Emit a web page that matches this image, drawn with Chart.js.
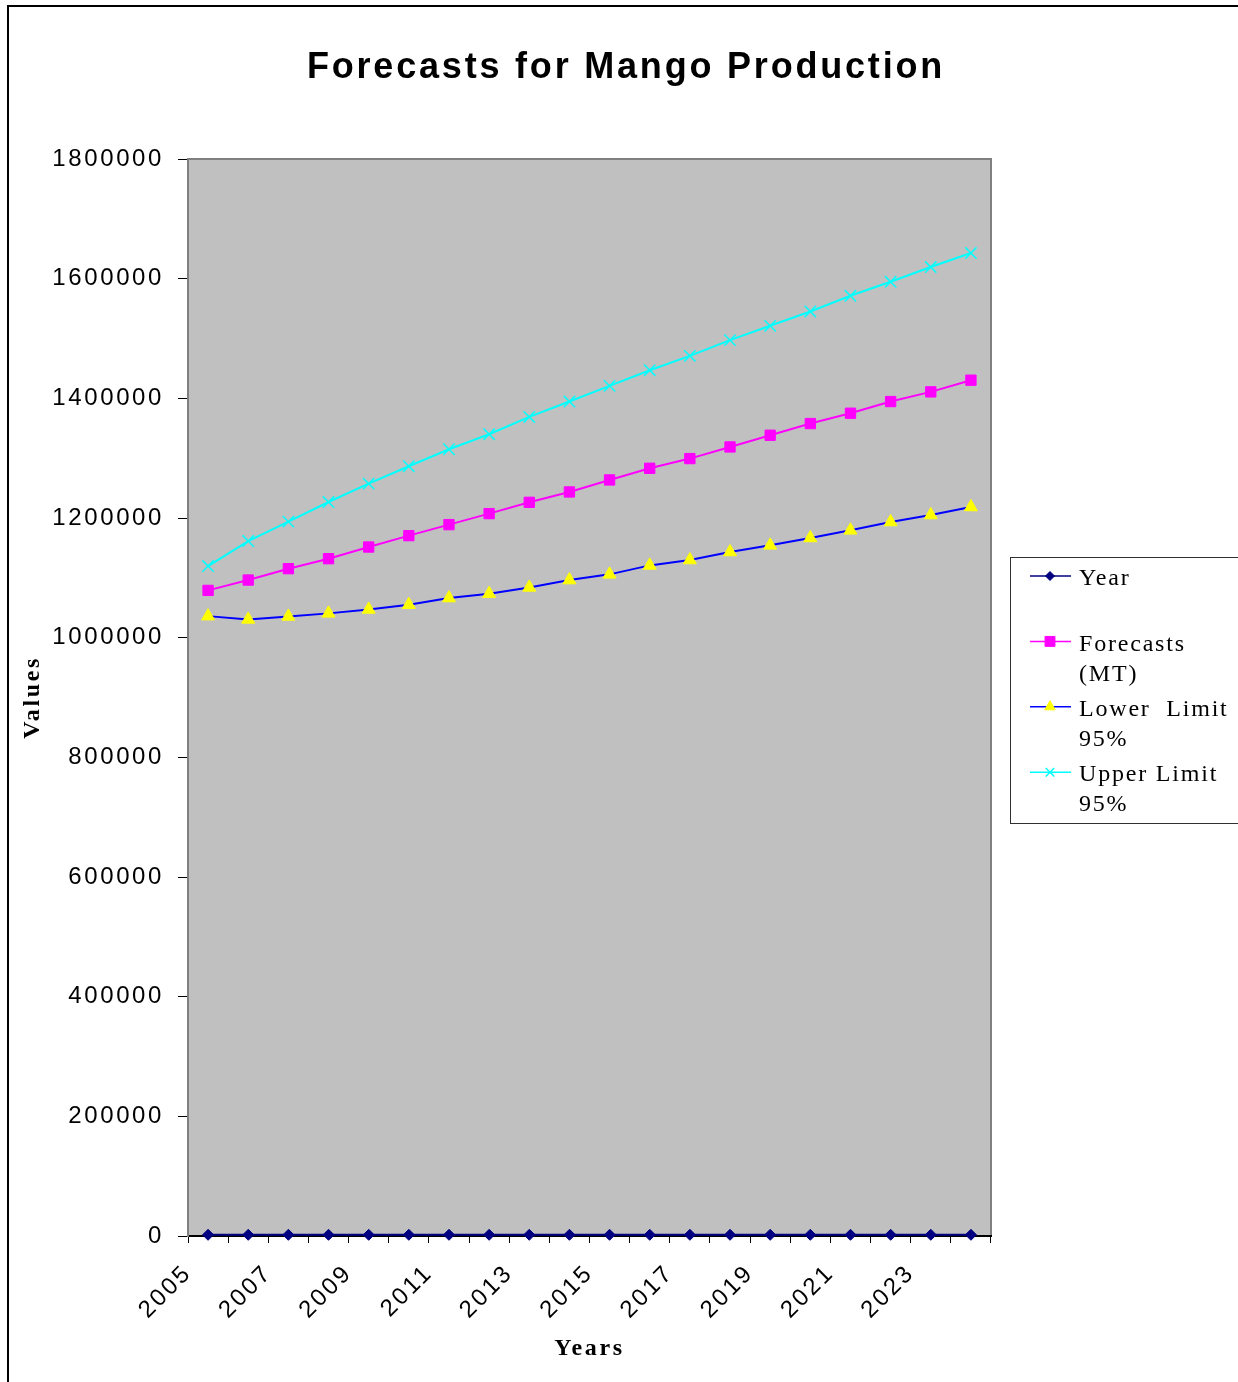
<!DOCTYPE html>
<html>
<head>
<meta charset="utf-8">
<title>Forecasts for Mango Production</title>
<script src="https://cdn.jsdelivr.net/npm/chart.js@4.4.1/dist/chart.umd.min.js"></script>
<style>
  html, body { margin: 0; padding: 0; background: #ffffff; overflow: hidden; }
  canvas { display: block; }
</style>
</head>
<body>
<canvas id="chart" width="1238" height="1382"></canvas>
<script>
// Categories (years) and the plotted series
const years = ['2005', '2006', '2007', '2008', '2009', '2010', '2011', '2012', '2013', '2014',
               '2015', '2016', '2017', '2018', '2019', '2020', '2021', '2022', '2023', '2024'];
const yearSeries = [2005, 2006, 2007, 2008, 2009, 2010, 2011, 2012, 2013, 2014,
                    2015, 2016, 2017, 2018, 2019, 2020, 2021, 2022, 2023, 2024];
const forecasts = [1079000, 1096300, 1115300, 1132000, 1151500, 1170500, 1188900, 1207300, 1226200, 1243500,
                   1263600, 1283100, 1299300, 1318800, 1338300, 1357800, 1375100, 1394600, 1410800, 1430300];
const lowerLimit = [1036000, 1030500, 1035500, 1040600, 1047200, 1055000, 1066200, 1073500, 1084000, 1096300,
                    1105800, 1120800, 1129800, 1143200, 1154300, 1166600, 1179400, 1193300, 1205000, 1218400];
const upperLimit = [1119700, 1161500, 1193900, 1226700, 1257500, 1286500, 1314900, 1340000, 1368900, 1394700,
                    1420800, 1447000, 1471000, 1497300, 1521200, 1545200, 1571400, 1594800, 1619400, 1642800];

// Legend text, one entry per series (wrapped lines)
const seriesNames = [['Year'], ['Forecasts', '(MT)'], ['Lower  Limit', '95%'], ['Upper Limit', '95%']];

// Value axis range
const yMin = 0;
const yMax = 1800000;
const yStep = 200000;

const chartTitle = 'Forecasts for Mango Production';
const xTitle = 'Years';
const yTitle = 'Values';

const SANS = "'Liberation Sans', Arial, Helvetica, sans-serif";
const SERIF = "'Liberation Serif', 'Times New Roman', Times, serif";

// Wider letter spacing for the axis text
const spacing = {
  id: 'spacing',
  beforeUpdate(chart) { chart.ctx.letterSpacing = '2.6px'; },
  beforeDraw(chart) { chart.ctx.letterSpacing = '2.6px'; }
};

// Outer frame, grey plot area and the chart heading
const frame = {
  id: 'frame',
  beforeDraw(chart) {
    const { ctx, chartArea: a } = chart;
    ctx.save();
    ctx.fillStyle = '#c0c0c0';
    ctx.fillRect(a.left, a.top, a.right - a.left, a.bottom - a.top);
    ctx.strokeStyle = '#808080';
    ctx.lineWidth = 2;
    ctx.strokeRect(a.left, a.top, a.right - a.left, a.bottom - a.top);

    ctx.strokeStyle = '#000000';
    ctx.lineWidth = 2;
    ctx.strokeRect(8, 6, chart.width + 20, chart.height + 20);

    ctx.fillStyle = '#000000';
    ctx.font = 'bold 36px ' + SANS;
    ctx.letterSpacing = '2.8px';
    ctx.textAlign = 'center';
    ctx.textBaseline = 'middle';
    ctx.fillText(chartTitle, 626, 68);
    ctx.restore();
  }
};

// Boxed legend on the right, with wrapped series names
const legendBox = {
  id: 'legendBox',
  afterDraw(chart) {
    const ctx = chart.ctx;
    const left = 1010, top = 557;
    ctx.save();
    ctx.fillStyle = '#ffffff';
    ctx.fillRect(left, top, 260, 266);
    ctx.strokeStyle = '#303030';
    ctx.lineWidth = 1;
    ctx.strokeRect(left + 0.5, top + 0.5, 260, 266);

    chart.data.datasets.forEach((ds, i) => {
      const ty = 579 + i * 65.4;
      const sy = ty - 3;
      ctx.strokeStyle = ds.borderColor;
      ctx.lineWidth = 1.5;
      ctx.beginPath();
      ctx.moveTo(left + 20, sy);
      ctx.lineTo(left + 61, sy);
      ctx.stroke();

      ctx.fillStyle = ds.pointBackgroundColor;
      ctx.strokeStyle = ds.pointBorderColor;
      ctx.lineWidth = ds.pointBorderWidth;
      if (Chart.helpers && Chart.helpers.drawPoint) {
        Chart.helpers.drawPoint(ctx, {
          pointStyle: ds.pointStyle,
          radius: ds.legendPointRadius,
          rotation: 0,
          borderWidth: ds.pointBorderWidth
        }, left + 40, sy);
      }

      ctx.fillStyle = '#000000';
      ctx.font = '24px ' + SERIF;
      ctx.letterSpacing = '1.8px';
      ctx.textAlign = 'left';
      ctx.textBaseline = 'middle';
      seriesNames[i].forEach((line, j) => ctx.fillText(line, left + 69, ty + j * 30));
    });
    ctx.restore();
  }
};

new Chart(document.getElementById('chart').getContext('2d'), {
  type: 'line',
  data: {
    labels: years,
    datasets: [
      {
        label: 'Year', data: yearSeries,
        borderColor: '#000080', borderWidth: 2,
        pointStyle: 'rectRot', pointRadius: 5.5, legendPointRadius: 4.5,
        pointBackgroundColor: '#000080', pointBorderColor: '#000080', pointBorderWidth: 1,
        clip: false
      },
      {
        label: 'Forecasts (MT)', data: forecasts,
        borderColor: '#ff00ff', borderWidth: 2,
        pointStyle: 'rect', pointRadius: 7.3, legendPointRadius: 7,
        pointBackgroundColor: '#ff00ff', pointBorderColor: '#ff00ff', pointBorderWidth: 1,
        clip: false
      },
      {
        label: 'Lower Limit 95%', data: lowerLimit,
        borderColor: '#0000ff', borderWidth: 2,
        pointStyle: 'triangle', pointRadius: 7.5, legendPointRadius: 6,
        pointBackgroundColor: '#ffff00', pointBorderColor: '#ffff00', pointBorderWidth: 1,
        clip: false
      },
      {
        label: 'Upper Limit 95%', data: upperLimit,
        borderColor: '#00ffff', borderWidth: 2,
        pointStyle: 'crossRot', pointRadius: 8, legendPointRadius: 6,
        pointBackgroundColor: '#00ffff', pointBorderColor: '#00ffff', pointBorderWidth: 1.5,
        clip: false
      }
    ]
  },
  options: {
    responsive: false,
    animation: false,
    events: [],
    layout: { padding: { top: 159, right: 247, left: 0, bottom: 0 } },
    elements: { line: { tension: 0 } },
    plugins: {
      legend: { display: false },
      title: { display: false },
      tooltip: { enabled: false }
    },
    scales: {
      x: {
        offset: true,
        grid: { offset: true, drawOnChartArea: false, tickLength: 7, color: '#000000', lineWidth: 1 },
        border: { color: '#000000', width: 2 },
        ticks: {
          autoSkip: false, minRotation: 45, maxRotation: 45,
          labelOffset: -20, padding: 16,
          color: '#000000', font: { family: SANS, size: 24 },
          callback(value, index) { return index % 2 === 0 ? this.getLabelForValue(value) : ''; }
        },
        title: {
          display: true, text: xTitle, color: '#000000',
          font: { family: SERIF, size: 24, weight: 'bold' },
          padding: { top: 0, bottom: 19 }
        },
        afterFit(scale) { scale.height = 146; }
      },
      y: {
        min: yMin, max: yMax,
        grid: { drawOnChartArea: false, tickLength: 10, color: '#000000', lineWidth: 1 },
        border: { color: '#808080', width: 2 },
        ticks: {
          stepSize: yStep, padding: 14,
          color: '#000000', font: { family: SANS, size: 24 },
          callback(value) { return String(value); }
        },
        title: {
          display: true, text: yTitle, color: '#000000',
          font: { family: SERIF, size: 24, weight: 'bold' },
          padding: { top: 18, bottom: 0 }
        },
        afterFit(scale) { scale.width = 188; }
      }
    }
  },
  plugins: [spacing, frame, legendBox]
});
</script>
</body>
</html>
